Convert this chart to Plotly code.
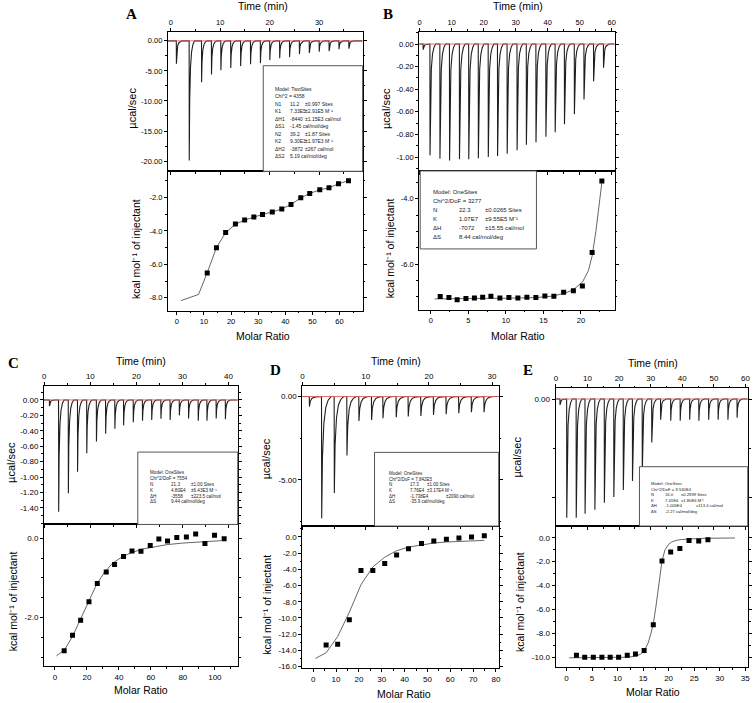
import plotly.graph_objects as go

W, H = 756, 703

# ---------------- DATA ----------------
# Panel A raw (injection times, peak heights µcal/sec)
A_inj_time = [1.1, 3.7, 6.2, 8.2, 10.1, 12.1, 14.1, 16.1, 18.1, 20.0, 22.0, 24.0, 26.0, 28.0, 30.0, 32.0, 34.0, 36.0]
A_inj_peak = [-3.8, -19.9, -6.9, -5.6, -4.9, -4.5, -4.2, -3.9, -3.7, -3.2, -2.9, -2.7, -2.2, -2.0, -1.8, -1.7, -1.4, -1.3]
A_ratio = [11.2, 14.6, 18.0, 21.6, 25.0, 28.4, 31.6, 35.2, 38.7, 42.1, 45.7, 49.0, 52.7, 56.1, 59.6, 63.3]
A_heat = [-6.51, -5.0, -4.1, -3.59, -3.35, -3.17, -3.01, -2.87, -2.68, -2.42, -2.02, -1.76, -1.54, -1.42, -1.18, -0.99]
A_fit_x = [1.5, 8.0, 11.2, 14.6, 18.0, 21.6, 25.0, 28.4, 31.6, 35.2, 38.7, 42.1, 45.7, 49.0, 52.7, 56.1, 59.6, 63.3]
A_fit_y = [-8.17, -7.8, -6.5, -5.0, -4.1, -3.6, -3.35, -3.17, -3.01, -2.87, -2.68, -2.42, -2.02, -1.76, -1.54, -1.42, -1.18, -0.99]

# Panel B
B_inj_time = [1.06, 3.2, 6.3, 9.3, 12.4, 15.3, 18.3, 21.4, 24.3, 27.3, 30.4, 33.3, 36.3, 39.4, 42.3, 45.2, 48.3, 51.3, 54.3, 57.4]
B_inj_peak = [-0.05, -0.985, -1.015, -1.03, -1.02, -1.02, -1.01, -1.0, -0.99, -0.97, -0.94, -0.89, -0.87, -0.82, -0.78, -0.71, -0.62, -0.49, -0.33, -0.21]
B_ratio = [1.24, 2.4, 3.5, 4.67, 5.8, 6.9, 8.0, 9.2, 10.4, 11.6, 12.8, 14.0, 15.2, 16.4, 17.7, 19.0, 20.2, 21.5, 22.8]
B_heat = [-6.99, -7.02, -7.09, -7.05, -7.03, -7.01, -6.98, -7.03, -7.02, -7.03, -7.01, -7.02, -6.97, -6.98, -6.86, -6.81, -6.67, -5.64, -3.46]
B_fit_x = [0.5, 2, 4, 6, 8, 10, 12, 14, 16, 17.7, 19.0, 20.2, 21.0, 21.5, 22.0, 22.4, 22.8]
B_fit_y = [-7.06, -7.06, -7.06, -7.05, -7.05, -7.04, -7.03, -7.02, -6.98, -6.9, -6.78, -6.55, -6.2, -5.75, -5.0, -4.3, -3.5]

# Panel C
C_inj_time = [1.1, 3.1, 5.2, 7.2, 9.2, 11.3, 13.3, 15.3, 17.2, 19.3, 21.3, 23.3, 25.3, 27.3, 29.3, 31.3, 33.4, 35.3, 37.3, 39.3]
C_inj_peak = [-0.08, -1.45, -1.21, -0.93, -0.69, -0.54, -0.44, -0.375, -0.33, -0.29, -0.27, -0.26, -0.245, -0.26, -0.2, -0.24, -0.27, -0.27, -0.24, -0.25]
C_ratio = [5.8, 11.0, 16.1, 21.3, 26.5, 32.1, 37.3, 42.9, 48.2, 53.8, 59.6, 65.0, 70.4, 76.2, 82.2, 88.0, 93.8, 99.8, 105.8]
C_heat = [-2.84, -2.45, -2.07, -1.60, -1.14, -0.85, -0.66, -0.46, -0.32, -0.33, -0.18, -0.02, -0.07, 0.02, 0.03, 0.11, -0.13, 0.08, -0.01]
C_fit_x = [1, 6, 11, 16, 21, 26, 31, 36, 42, 48, 55, 62, 70, 80, 90, 100, 104]
C_fit_y = [-2.97, -2.82, -2.48, -2.05, -1.6, -1.17, -0.86, -0.63, -0.47, -0.36, -0.27, -0.21, -0.16, -0.12, -0.09, -0.07, -0.06]

# Panel D
D_inj_time = [1.06, 3.0, 5.0, 7.0, 8.9, 10.9, 12.7, 14.8, 16.7, 18.7, 20.7, 22.7, 24.7, 26.7, 28.7]
D_inj_peak = [-0.6, -7.3, -5.78, -3.53, -1.46, -1.4, -1.3, -1.24, -1.2, -1.17, -1.1, -1.06, -1.0, -0.94, -0.94]
D_ratio = [5.65, 10.7, 15.8, 20.9, 26.1, 31.3, 36.5, 41.7, 47.4, 52.8, 58.3, 63.8, 69.3, 74.9]
D_heat = [-13.33, -13.25, -10.22, -4.14, -4.14, -3.28, -2.22, -1.44, -0.82, -0.49, -0.29, -0.12, 0.0, 0.16]
D_fit_x = [1, 5.65, 10.7, 15.8, 20.9, 26.1, 31.3, 36.5, 41.7, 47.4, 52.8, 58.3, 63.8, 69.3, 74.9]
D_fit_y = [-15.0, -14.3, -12.3, -9.3, -5.9, -3.7, -2.5, -1.7, -1.25, -0.95, -0.75, -0.62, -0.53, -0.47, -0.42]

# Panel E
E_inj_time = [1.27, 3.4, 6.4, 9.2, 12.3, 15.3, 18.3, 21.3, 24.2, 27.3, 30.3, 33.1, 36.3, 39.3, 42.3, 45.2, 48.3, 51.3, 54.4, 57.3]
E_inj_peak = [-0.06, -1.2, -1.2, -1.16, -1.12, -1.05, -0.99, -0.92, -0.83, -0.73, -0.44, -0.21, -0.22, -0.22, -0.21, -0.22, -0.21, -0.21, -0.21, -0.19]
E_ratio = [1.94, 3.56, 5.25, 6.93, 8.55, 10.2, 11.9, 13.5, 15.2, 17.0, 18.7, 20.4, 22.2, 24.0, 25.9, 27.7]
E_heat = [-9.83, -10.0, -10.0, -10.0, -10.0, -10.0, -9.83, -9.72, -9.44, -7.28, -1.94, -1.19, -0.89, -0.22, -0.28, -0.17]
E_fit_x = [0.5, 2, 4, 6, 8, 10, 12, 13.5, 14.5, 15.2, 16.0, 16.6, 17.0, 17.5, 18.0, 18.7, 19.3, 20.0, 20.6, 21.5, 22.5, 24, 26, 28, 30, 33]
E_fit_y = [-10.05, -10.05, -10.05, -10.05, -10.04, -10.03, -10.0, -9.92, -9.75, -9.5, -8.8, -7.9, -7.2, -5.8, -4.0, -1.95, -1.0, -0.55, -0.35, -0.22, -0.15, -0.1, -0.06, -0.04, -0.03, -0.02]

# Tick values / labels
A_time_ticks = [0, 10, 20, 30]
A_raw_yticks = [0, -5, -10, -15, -20]
A_raw_ylabels = ["0.00", "-5.00", "-10.00", "-15.00", "-20.00"]
A_iso_xticks = [0, 10, 20, 30, 40, 50, 60]
A_iso_yticks = [-2, -4, -6, -8]
A_iso_ylabels = ["-2.0", "-4.0", "-6.0", "-8.0"]

B_time_ticks = [0, 10, 20, 30, 40, 50, 60]
B_raw_yticks = [0, -0.2, -0.4, -0.6, -0.8, -1.0]
B_raw_ylabels = ["0.00", "-0.20", "-0.40", "-0.60", "-0.80", "-1.00"]
B_iso_xticks = [0, 5, 10, 15, 20]
B_iso_yticks = [-4, -6]
B_iso_ylabels = ["-4.0", "-6.0"]

C_time_ticks = [0, 10, 20, 30, 40]
C_raw_yticks = [0, -0.2, -0.4, -0.6, -0.8, -1.0, -1.2, -1.4]
C_raw_ylabels = ["0.00", "-0.20", "-0.40", "-0.60", "-0.80", "-1.00", "-1.20", "-1.40"]
C_iso_xticks = [0, 20, 40, 60, 80, 100]
C_iso_yticks = [0, -2]
C_iso_ylabels = ["0.0", "-2.0"]

D_time_ticks = [0, 10, 20, 30]
D_raw_yticks = [0, -5]
D_raw_ylabels = ["0.00", "-5.00"]
D_iso_xticks = [0, 10, 20, 30, 40, 50, 60, 70, 80]
D_iso_yticks = [0, -2, -4, -6, -8, -10, -12, -14, -16]
D_iso_ylabels = ["0.0", "-2.0", "-4.0", "-6.0", "-8.0", "-10.0", "-12.0", "-14.0", "-16.0"]

E_time_ticks = [0, 10, 20, 30, 40, 50, 60]
E_raw_yticks = [0, -1]
E_raw_ylabels = ["0.00", ""]
E_iso_xticks = [0, 5, 10, 15, 20, 25, 30, 35]
E_iso_yticks = [0, -2, -4, -6, -8, -10]
E_iso_ylabels = ["0.0", "-2.0", "-4.0", "-6.0", "-8.0", "-10.0"]

# Fit parameter boxes (rows of cells)
A_box = [["Model: TwoSites"], ["Chi^2 = 4358"],
         ["N1", "11.2", "±0.997 Sites"], ["K1", "7.33E5", "±2.91E5 M⁻¹"],
         ["ΔH1", "-8440", "±1.15E3 cal/mol"], ["ΔS1", "-1.45 cal/mol/deg"],
         ["N2", "39.2", "±1.87 Sites"], ["K2", "9.30E3", "±1.97E3 M⁻¹"],
         ["ΔH2", "-3872", "±267 cal/mol"], ["ΔS2", "5.19 cal/mol/deg"]]
B_box = [["Model: OneSites"], ["Chi^2/DoF = 3277"],
         ["N", "22.3", "±0.0265 Sites"], ["K", "1.07E7", "±9.55E5 M⁻¹"],
         ["ΔH", "-7072", "±15.55 cal/mol"], ["ΔS", "8.44 cal/mol/deg"]]
C_box = [["Model: OneSites"], ["Chi^2/DoF = 7554"],
         ["N", "21.3", "±1.00 Sites"], ["K", "4.80E4", "±6.43E3 M⁻¹"],
         ["ΔH", "-3558", "±223.5 cal/mol"], ["ΔS", "9.44 cal/mol/deg"]]
D_box = [["Model: OneSites"], ["Chi^2/DoF = 7.842E5"],
         ["N", "17.3", "±1.00 Sites"], ["K", "7.76E4", "±3.17E4 M⁻¹"],
         ["ΔH", "-1.738E4", "±2090 cal/mol"], ["ΔS", "-35.9 cal/mol/deg"]]
E_box = [["Model: OneSites"], ["Chi^2/DoF = 9.530E4"],
         ["N", "16.0", "±0.2899 Sites"], ["K", "7.41E6", "±1.80E6 M⁻¹"],
         ["ΔH", "-1.005E4", "±113.4 cal/mol"], ["ΔS", "-2.27 cal/mol/deg"]]

# ---------------- LAYOUT GEOMETRY (pixels) ----------------
def px_x(p):
    return p / W

def px_y(p):
    return 1 - p / H

FONT = "Liberation Sans, Arial, sans-serif"

fig = go.Figure()
layout = dict(width=W, height=H, margin=dict(l=0, r=0, t=0, b=0),
              plot_bgcolor="white", paper_bgcolor="white", showlegend=False,
              font=dict(family=FONT, color="black"))
annotations = []
shapes = []

axis_counter = [0]


def make_axis(domain, rng, anchor, side, tickvals, ticktext, fs, mirror, minor_dtick):
    return dict(domain=domain, range=rng, anchor=anchor, side=side,
                tickmode="array", tickvals=tickvals, ticktext=ticktext,
                ticks="outside", ticklen=3, tickwidth=1, tickcolor="black",
                showline=True, linecolor="black", linewidth=1, mirror=mirror,
                showgrid=False, zeroline=False, fixedrange=True,
                tickfont=dict(size=fs, family=FONT, color="black"),
                minor=dict(dtick=minor_dtick, tick0=0, ticks="outside", ticklen=1.8,
                           tickcolor="black", showgrid=False))


def raw_curve(times, peaks, t0, t1, rec):
    shape_dt = [0.0, 0.02, 0.10, 0.25, 0.45, 0.70, 1.0]
    shape_fr = [0.0, 1.0, 0.50, 0.22, 0.09, 0.03, 0.0]
    xs, ys = [t0], [0.0]
    for t, p in zip(times, peaks):
        for d, f in zip(shape_dt, shape_fr):
            xs.append(t + d * rec)
            ys.append(p * f)
    xs.append(t1)
    ys.append(0.0)
    return xs, ys


def label(text, x, y, size, angle=0, family=FONT, xanchor="center", color="black"):
    annotations.append(dict(text=text, x=px_x(x), y=px_y(y), xref="paper", yref="paper",
                            xanchor=xanchor, yanchor="middle", showarrow=False, textangle=angle,
                            font=dict(size=size, family=family, color=color)))


def add_panel(p):
    axis_counter[0] += 2
    i_raw = axis_counter[0] - 1
    i_iso = axis_counter[0]
    xd = [px_x(p["x0"]), px_x(p["x1"])]
    yd_raw = [px_y(p["ymid"]), px_y(p["ytop"])]
    yd_iso = [px_y(p["ybot"]), px_y(p["ymid"])]
    fs = p["fs"]

    def key(letter, i):
        return f"{letter}axis" if i == 1 else f"{letter}axis{i}"

    def ref(letter, i):
        return letter if i == 1 else f"{letter}{i}"

    layout[key("x", i_raw)] = make_axis(xd, p["t_range"], ref("y", i_raw), "top",
                                        p["t_ticks"], [str(v) for v in p["t_ticks"]], fs, "ticks", p["t_minor"])
    layout[key("y", i_raw)] = make_axis(yd_raw, p["raw_range"], ref("x", i_raw), "left",
                                        p["raw_yticks"], p["raw_ylabels"], fs, "ticks", p["raw_minor"])
    layout[key("x", i_iso)] = make_axis(xd, p["iso_xrange"], ref("y", i_iso), "bottom",
                                        p["iso_xticks"], [str(v) for v in p["iso_xticks"]], fs, True, p["iso_xminor"])
    layout[key("y", i_iso)] = make_axis(yd_iso, p["iso_yrange"], ref("x", i_iso), "left",
                                        p["iso_yticks"], p["iso_ylabels"], fs, "ticks", p["iso_yminor"])

    rx, ry = raw_curve(p["inj_time"], p["inj_peak"], p["t_range"][0], p["t_range"][1], p["rec"])
    fig.add_trace(go.Scatter(x=rx, y=ry, mode="lines", line=dict(color="#1e1e1e", width=1.1),
                             xaxis=ref("x", i_raw), yaxis=ref("y", i_raw), hoverinfo="skip"))
    fig.add_trace(go.Scatter(x=[p["t_range"][0], p["t_range"][1]], y=[0, 0], mode="lines",
                             line=dict(color="#e06060", width=0.9),
                             xaxis=ref("x", i_raw), yaxis=ref("y", i_raw), hoverinfo="skip"))
    fig.add_trace(go.Scatter(x=p["fit_x"], y=p["fit_y"], mode="lines",
                             line=dict(color="#555555", width=0.9),
                             xaxis=ref("x", i_iso), yaxis=ref("y", i_iso), hoverinfo="skip"))
    fig.add_trace(go.Scatter(x=p["ratio"], y=p["heat"], mode="markers",
                             marker=dict(symbol="square", size=5, color="black"),
                             xaxis=ref("x", i_iso), yaxis=ref("y", i_iso), hoverinfo="skip"))

    # titles
    label("Time (min)", *p["time_title"], 10.5)
    label("Molar Ratio", *p["mr_title"], 10.5)
    label("µcal/sec", *p["mu_title"], 11, angle=-90)
    label("kcal mol⁻¹ of injectant", *p["kc_title"], 10.5, angle=-90)
    label("<b>" + p["letter"] + "</b>", *p["letter_pos"], 15,
          family="Liberation Serif, Times New Roman, serif")

    # parameter box
    bx0, bx1, by0, by1 = p["box"]
    shapes.append(dict(type="rect", xref="paper", yref="paper", x0=px_x(bx0), x1=px_x(bx1),
                       y0=px_y(by1), y1=px_y(by0), fillcolor="white",
                       line=dict(color="#555555", width=1), layer="above"))
    rows = p["box_rows"]
    ry0, rstep = p["box_row_y"]
    cols = p["box_cols"]
    for r, row in enumerate(rows):
        yy = ry0 + r * rstep
        for c, cell in enumerate(row):
            xx = cols[c]
            if c == 2 and p.get("wide_row") == r:
                xx = p["wide_col"]
            label(cell, xx, yy, p["box_fs"], xanchor="left", color="#222222")


panels = [
    dict(letter="A", x0=167, x1=363, ytop=32, ymid=172, ybot=312, fs=7.5,
         t_range=[-0.6, 38.8], t_ticks=A_time_ticks, t_minor=5,
         raw_range=[-21.7, 1.5], raw_yticks=A_raw_yticks, raw_ylabels=A_raw_ylabels, raw_minor=2.5,
         iso_xrange=[-3.3, 68.5], iso_xticks=A_iso_xticks, iso_xminor=5,
         iso_yrange=[-8.77, -0.43], iso_yticks=A_iso_yticks, iso_ylabels=A_iso_ylabels, iso_yminor=1,
         inj_time=A_inj_time, inj_peak=A_inj_peak, rec=1.1,
         ratio=A_ratio, heat=A_heat, fit_x=A_fit_x, fit_y=A_fit_y,
         time_title=(263, 6), mr_title=(263, 337), mu_title=(130, 109), kc_title=(135, 250),
         letter_pos=(130, 14),
         box=(263, 363, 66, 172), box_rows=A_box, box_row_y=(89.3, 7.49), box_cols=(273, 287.5, 302.7),
         box_fs=5),
    dict(letter="B", x0=420, x1=616.7, ytop=32, ymid=171.7, ybot=311, fs=7.5,
         t_range=[-0.14, 60.9], t_ticks=B_time_ticks, t_minor=5,
         raw_range=[-1.123, 0.108], raw_yticks=B_raw_yticks, raw_ylabels=B_raw_ylabels, raw_minor=0.1,
         iso_xrange=[-1.56, 24.5], iso_xticks=B_iso_xticks, iso_xminor=2.5,
         iso_yrange=[-7.39, -3.15], iso_yticks=B_iso_yticks, iso_ylabels=B_iso_ylabels, iso_yminor=0.5,
         inj_time=B_inj_time, inj_peak=B_inj_peak, rec=1.8,
         ratio=B_ratio, heat=B_heat, fit_x=B_fit_x, fit_y=B_fit_y,
         time_title=(519, 6), mr_title=(519, 337), mu_title=(386, 109), kc_title=(391, 249),
         letter_pos=(389, 14),
         box=(421, 538, 171.7, 250), box_rows=B_box, box_row_y=(193.3, 9.0), box_cols=(432, 457.7, 484.3),
         box_fs=6),
    dict(letter="C", x0=42.3, x1=237.3, ytop=387.7, ymid=526.7, ybot=669, fs=8,
         t_range=[-0.06, 42.0], t_ticks=C_time_ticks, t_minor=5,
         raw_range=[-1.615, 0.18], raw_yticks=C_raw_yticks, raw_ylabels=C_raw_ylabels, raw_minor=0.1,
         iso_xrange=[-6.8, 114.3], iso_xticks=C_iso_xticks, iso_xminor=10,
         iso_yrange=[-3.23, 0.35], iso_yticks=C_iso_yticks, iso_ylabels=C_iso_ylabels, iso_yminor=0.5,
         inj_time=C_inj_time, inj_peak=C_inj_peak, rec=1.2,
         ratio=C_ratio, heat=C_heat, fit_x=C_fit_x, fit_y=C_fit_y,
         time_title=(140, 363), mr_title=(140, 693), mu_title=(9, 464), kc_title=(12, 604),
         letter_pos=(12, 365),
         box=(136.7, 237.3, 454, 526.7), box_rows=C_box, box_row_y=(475, 5.8), box_cols=(146.7, 168.3, 188.5),
         box_fs=4.6),
    dict(letter="D", x0=302.3, x1=500, ytop=387.7, ymid=528.3, ybot=671, fs=8,
         t_range=[-0.04, 31.05], t_ticks=D_time_ticks, t_minor=5,
         raw_range=[-7.77, 0.63], raw_yticks=D_raw_yticks, raw_ylabels=D_raw_ylabels, raw_minor=2.5,
         iso_xrange=[-4.78, 81.2], iso_xticks=D_iso_xticks, iso_xminor=5,
         iso_yrange=[-16.2, 1.35], iso_yticks=D_iso_yticks, iso_ylabels=D_iso_ylabels, iso_yminor=1,
         inj_time=D_inj_time, inj_peak=D_inj_peak, rec=1.5,
         ratio=D_ratio, heat=D_heat, fit_x=D_fit_x, fit_y=D_fit_y,
         time_title=(397, 363), mr_title=(405, 697), mu_title=(266, 461), kc_title=(267, 607),
         letter_pos=(275, 372),
         box=(375, 500, 454.3, 528.3), box_rows=D_box, box_row_y=(475.7, 5.66), box_cols=(387.3, 408.3, 426),
         wide_row=4, wide_col=445, box_fs=4.5),
    dict(letter="E", x0=557.3, x1=750.7, ytop=390, ymid=528.3, ybot=670, fs=8,
         t_range=[-0.09, 60.7], t_ticks=E_time_ticks, t_minor=5,
         raw_range=[-1.285, 0.108], raw_yticks=E_raw_yticks, raw_ylabels=E_raw_ylabels, raw_minor=0.5,
         iso_xrange=[-2.14, 35.5], iso_xticks=E_iso_xticks, iso_xminor=2.5,
         iso_yrange=[-10.83, 0.98], iso_yticks=E_iso_yticks, iso_ylabels=E_iso_ylabels, iso_yminor=1,
         inj_time=E_inj_time, inj_peak=E_inj_peak, rec=1.8,
         ratio=E_ratio, heat=E_heat, fit_x=E_fit_x, fit_y=E_fit_y,
         time_title=(655, 365), mr_title=(655, 695), mu_title=(518, 459), kc_title=(522, 605),
         letter_pos=(529, 372),
         box=(641.7, 750.7, 468.7, 528.3), box_rows=E_box, box_row_y=(486, 5.45), box_cols=(651.7, 665, 682),
         wide_row=4, wide_col=697, box_fs=4.2),
]

for p in panels:
    add_panel(p)

layout["annotations"] = annotations
layout["shapes"] = shapes
fig.update_layout(**layout)
fig.write_html("out.html", config={"displayModeBar": False, "staticPlot": True},
               post_script="document.body.style.margin='0px';document.body.style.padding='0px';"
                           "document.body.style.overflow='hidden';")
